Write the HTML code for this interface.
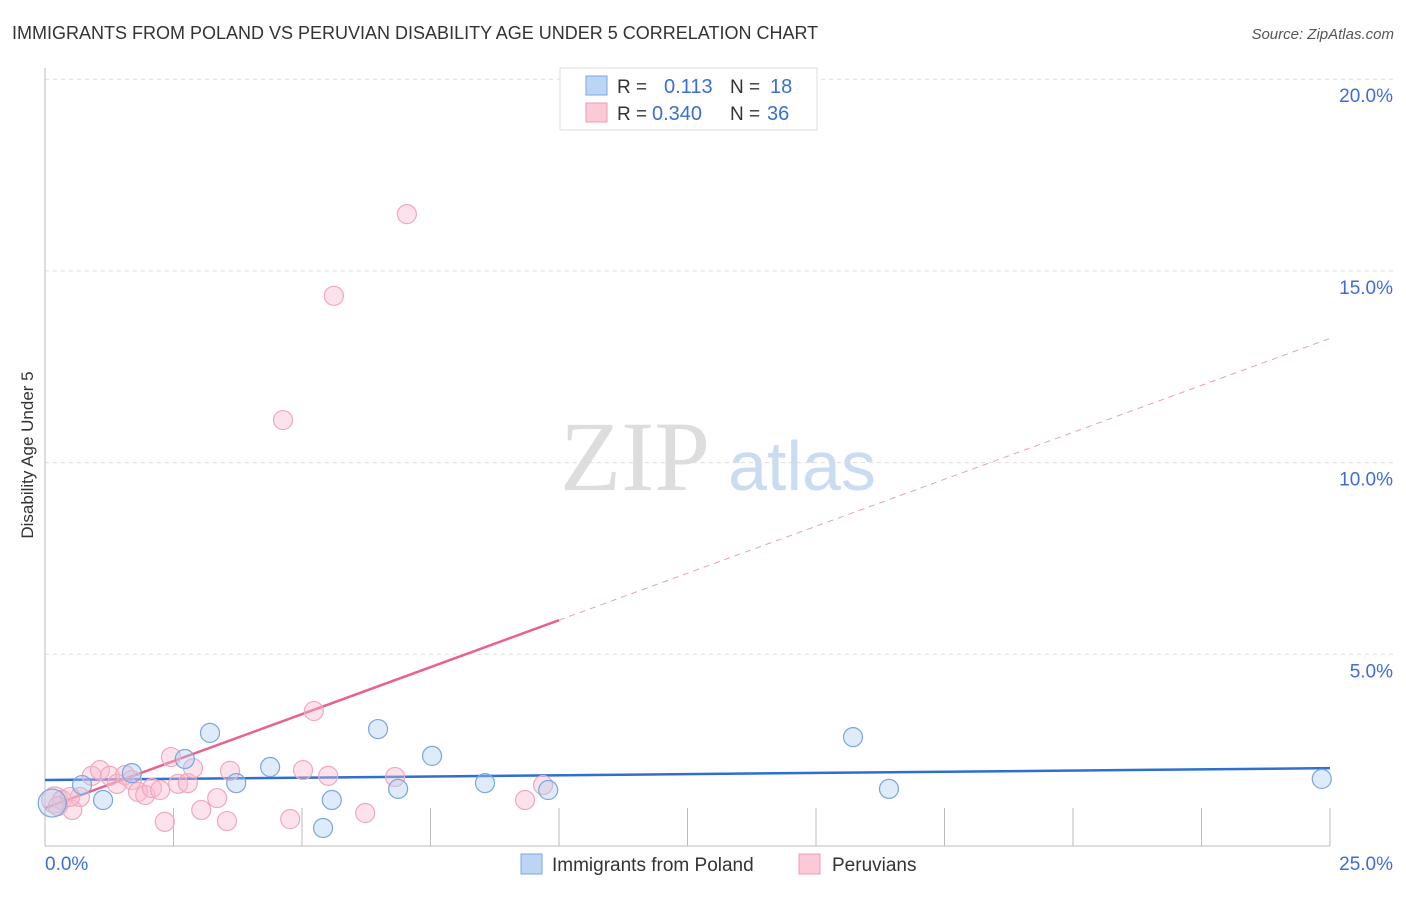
<!DOCTYPE html>
<html><head><meta charset="utf-8"><style>
body{margin:0;background:#fff;font-family:"Liberation Sans",sans-serif;}
</style></head><body>
<svg width="1406" height="892" font-family="Liberation Sans, sans-serif">
<text x="12" y="39" font-size="18" fill="#333">IMMIGRANTS FROM POLAND VS PERUVIAN DISABILITY AGE UNDER 5 CORRELATION CHART</text>
<text x="1394" y="39" font-size="15" fill="#555" text-anchor="end" font-style="italic">Source: ZipAtlas.com</text>
<text transform="translate(33,455) rotate(-90)" font-size="17" fill="#333" text-anchor="middle">Disability Age Under 5</text>
<text x="635" y="490" font-size="100" fill="#ddd" style="font-family:'Liberation Serif',serif" text-anchor="middle">ZIP</text>
<text x="802" y="490" font-size="70" fill="#c9dcf2" text-anchor="middle">atlas</text>
<g id="grid"></g><g id="axes"></g><g id="trend"></g><g id="pts"></g>
<g>
<rect x="560" y="68" width="257" height="62" fill="#fff" stroke="#ddd"/>
<rect x="586" y="76" width="21" height="19" fill="#bcd5f5" stroke="#7aa7e0"/>
<rect x="586" y="103" width="21" height="19" fill="#fcc9d7" stroke="#f09ab3"/>
<text x="617" y="93" font-size="19" fill="#333">R = </text><text x="664" y="93" font-size="20" fill="#3b6fd1">0.113</text>
<text x="730" y="93" font-size="19" fill="#333">N = </text><text x="770" y="93" font-size="20" fill="#3b6fd1">18</text>
<text x="617" y="120" font-size="19" fill="#333">R = </text><text x="652" y="120" font-size="20" fill="#3b6fd1">0.340</text>
<text x="730" y="120" font-size="19" fill="#333">N = </text><text x="767" y="120" font-size="20" fill="#3b6fd1">36</text>
</g>
<g>
<rect x="521" y="854" width="21" height="20" fill="#bcd5f5" stroke="#7aa7e0"/>
<text x="552" y="871" font-size="19" fill="#333">Immigrants from Poland</text>
<rect x="799" y="854" width="21" height="20" fill="#fcc9d7" stroke="#f09ab3"/>
<text x="832" y="871" font-size="19" fill="#333">Peruvians</text>
</g>
</svg>
<script>
const blueX=[0.14,0.72,1.13,1.69,2.72,3.21,3.72,4.38,5.41,5.58,6.48,6.87,7.53,8.56,9.79,15.72,16.42,24.84];
const blueY=[1.12,1.59,1.20,1.90,2.27,2.95,1.64,2.06,0.47,1.20,3.05,1.49,2.35,1.64,1.46,2.84,1.49,1.75];
const pinkX=[0.19,0.33,0.53,0.68,0.91,1.07,1.26,1.40,1.56,1.69,1.81,1.95,2.08,2.24,2.33,2.45,2.59,2.78,2.88,3.04,3.35,3.54,3.60,4.63,4.77,5.02,5.23,5.51,5.62,6.23,6.81,7.04,9.34,9.69,0.49,0.25];
const pinkY=[1.20,1.20,0.94,1.28,1.83,1.98,1.83,1.62,1.85,1.72,1.41,1.33,1.51,1.46,0.63,2.32,1.62,1.64,2.03,0.94,1.25,0.65,1.96,11.11,0.70,1.98,3.52,1.83,14.35,0.86,1.80,16.48,1.20,1.59,1.28,1.04];
const yTicks=[5,10,15,20];
const yTickLabels=["5.0%","10.0%","15.0%","20.0%"];
const xTickLabels=["0.0%","25.0%"];
const blueTrend=[1.72,2.03];
const pinkTrend=[0.99,0.49];
const X=v=>45+v*51.4, Y=v=>846-v*38.34;
const NS="http://www.w3.org/2000/svg";
function mk(p,t,a){const e=document.createElementNS(NS,t);for(const k in a)e.setAttribute(k,a[k]);document.getElementById(p).appendChild(e);return e;}
yTicks.forEach((t,i)=>{
 const l=mk('grid','line',{x1:45,x2:1395,y1:Y(t),y2:Y(t),stroke:'#ddd','stroke-dasharray':'4,4'});
 
 
 const tx=mk('grid','text',{x:1393,y:Y(t)+23,'font-size':19,fill:'#3b6fd1','text-anchor':'end'});tx.textContent=yTickLabels[i];
 
 
});
let a=mk('axes','line',{x1:45,x2:45,y1:68,y2:846,stroke:'#bbb'});


a=mk('axes','line',{x1:45,x2:1330,y1:846,y2:846,stroke:'#bbb'});


for(let i=1;i<=10;i++){const t=mk('axes','line',{x1:X(i*2.5),x2:X(i*2.5),y1:808,y2:846,stroke:'#bbb'});
 
 }
let t0=mk('axes','text',{x:45,y:870,'font-size':19,fill:'#3b6fd1'});t0.textContent=xTickLabels[0];


t0=mk('axes','text',{x:1393,y:870,'font-size':19,fill:'#3b6fd1','text-anchor':'end'});t0.textContent=xTickLabels[1];


let tl=mk('trend','line',{x1:X(0),y1:Y(blueTrend[0]),x2:X(25),y2:Y(blueTrend[1]),stroke:'#2f6fd0','stroke-width':2.5});


tl=mk('trend','line',{x1:X(0),y1:Y(pinkTrend[0]),x2:X(10),y2:Y(pinkTrend[0]+pinkTrend[1]*10),stroke:'#e8628c','stroke-width':2.5});


tl=mk('trend','line',{x1:X(10),y1:Y(pinkTrend[0]+pinkTrend[1]*10),x2:X(25),y2:Y(pinkTrend[0]+pinkTrend[1]*25),stroke:'#e8a0b6','stroke-width':1,'stroke-dasharray':'6,5'});


pinkX.forEach((v,i)=>{const c=mk('pts','circle',{cx:X(v),cy:Y(pinkY[i]),r:i<1?13:9.5,fill:'rgba(248,185,205,0.4)',stroke:'#f0a8bd','stroke-width':1.2});
 
 });
blueX.forEach((v,i)=>{const c=mk('pts','circle',{cx:X(v),cy:Y(blueY[i]),r:i==0?14:9.5,fill:'rgba(175,205,240,0.4)',stroke:'#78a6e2','stroke-width':1.2});
 
 });
</script>
</body></html>
